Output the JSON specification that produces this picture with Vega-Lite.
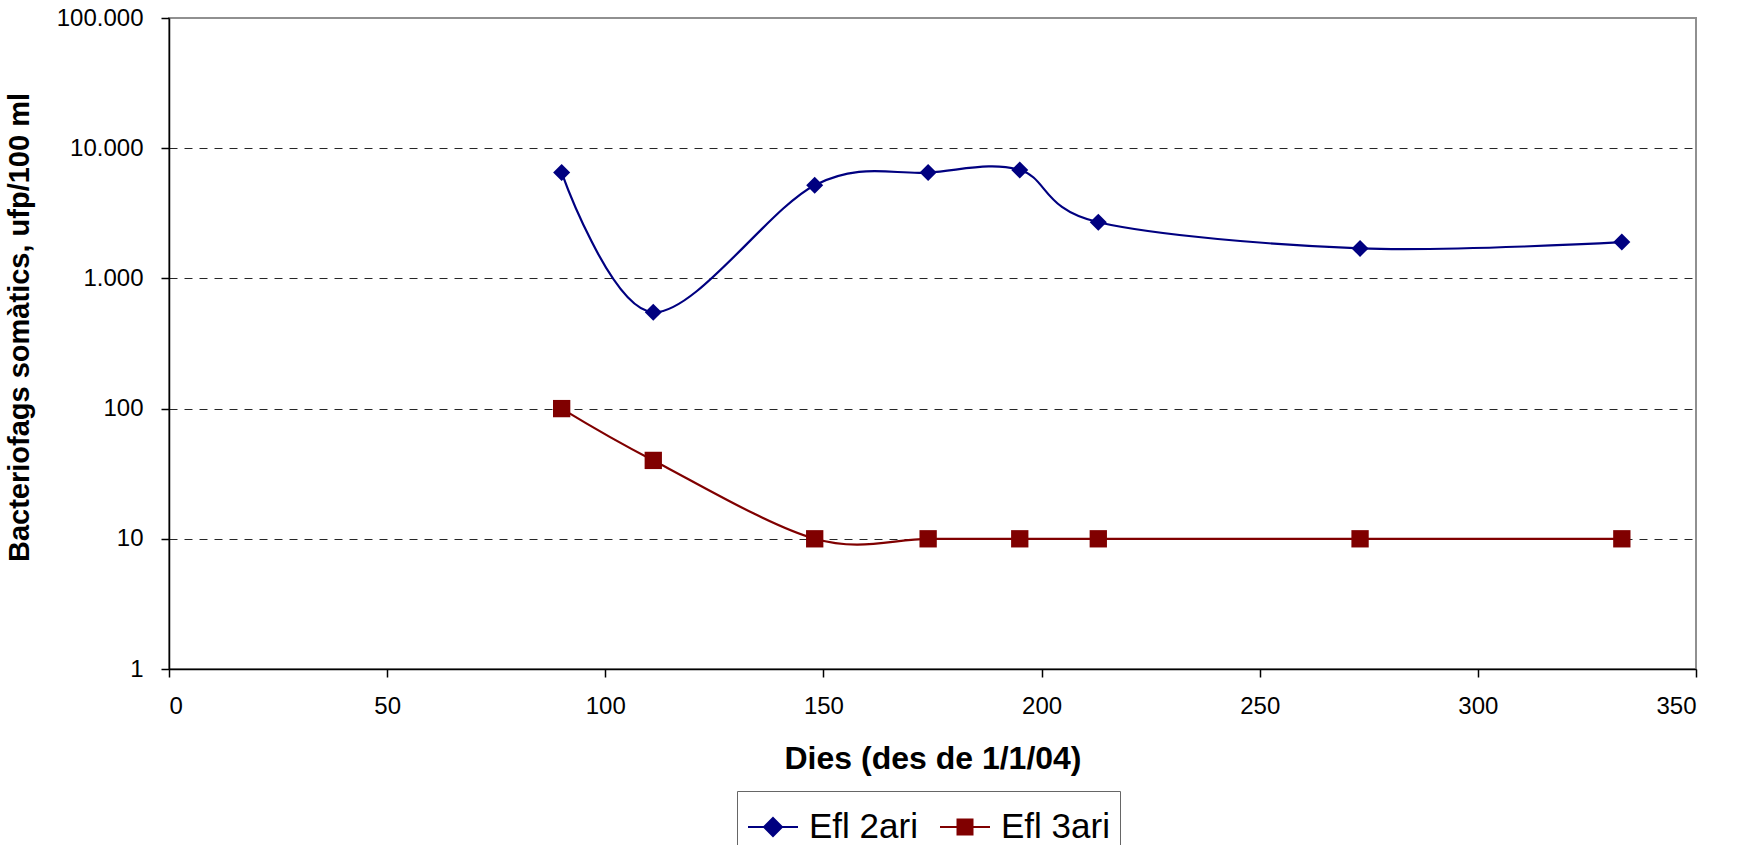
{
  "$schema": "https://vega.github.io/schema/vega-lite/v6.json",
  "width": 1527,
  "height": 651,
  "autosize": {"type": "none"},
  "padding": {"left": 169, "top": 18, "right": 42, "bottom": 176},
  "background": "white",
  "data": {
    "values": [
      {"dies": 90, "serie": "Efl 2ari", "valor": 6500},
      {"dies": 111, "serie": "Efl 2ari", "valor": 550},
      {"dies": 148, "serie": "Efl 2ari", "valor": 5200},
      {"dies": 174, "serie": "Efl 2ari", "valor": 6500},
      {"dies": 195, "serie": "Efl 2ari", "valor": 6800},
      {"dies": 213, "serie": "Efl 2ari", "valor": 2700},
      {"dies": 273, "serie": "Efl 2ari", "valor": 1700},
      {"dies": 333, "serie": "Efl 2ari", "valor": 1900},
      {"dies": 90, "serie": "Efl 3ari", "valor": 100},
      {"dies": 111, "serie": "Efl 3ari", "valor": 40},
      {"dies": 148, "serie": "Efl 3ari", "valor": 10},
      {"dies": 174, "serie": "Efl 3ari", "valor": 10},
      {"dies": 195, "serie": "Efl 3ari", "valor": 10},
      {"dies": 213, "serie": "Efl 3ari", "valor": 10},
      {"dies": 273, "serie": "Efl 3ari", "valor": 10},
      {"dies": 333, "serie": "Efl 3ari", "valor": 10}
    ]
  },
  "encoding": {
    "x": {
      "field": "dies",
      "type": "quantitative",
      "scale": {"domain": [0, 350], "nice": false, "zero": false},
      "axis": {
        "title": "Dies (des de 1/1/04)",
        "values": [0, 50, 100, 150, 200, 250, 300, 350],
        "grid": false,
        "labelFontSize": 24,
        "labelPadding": 17,
        "titlePadding": 25,
        "titleFontSize": 32
      }
    },
    "y": {
      "field": "valor",
      "type": "quantitative",
      "scale": {"type": "log", "domain": [1, 100000], "nice": false},
      "axis": {
        "title": "Bacteriofags somàtics, ufp/100 ml",
        "values": [1, 10, 100, 1000, 10000, 100000],
        "format": ",.0f",
        "grid": true,
        "gridDash": [8, 7],
        "gridColor": "#000000",
        "gridWidth": 1,
        "gridOpacity": {"condition": {"test": "datum.value <= 1 || datum.value >= 100000", "value": 0}, "value": 0.85},
        "labelFontSize": 24,
        "labelPadding": 18,
        "titlePadding": 22,
        "titleFontSize": 29,
        "titleY": 309
      }
    },
    "color": {
      "field": "serie",
      "type": "nominal",
      "scale": {"domain": ["Efl 2ari", "Efl 3ari"], "range": ["#000080", "#800000"]},
      "legend": {
        "orient": "none",
        "legendX": 568,
        "legendY": 773,
        "direction": "horizontal",
        "title": null,
        "symbolSize": 2500,
        "symbolStrokeWidth": 2,
        "symbolOpacity": 1,
        "symbolType": {"expr": "datum.value === 'Efl 2ari' ? 'M-1,0L1,0M0,-0.36L0.36,0L0,0.36L-0.36,0Z' : 'M-1,0L1,0M-0.3,-0.3L0.3,-0.3L0.3,0.3L-0.3,0.3Z'"},
        "symbolFillColor": {"expr": "datum.value === 'Efl 2ari' ? '#000080' : '#800000'"},
        "symbolStrokeColor": {"expr": "datum.value === 'Efl 2ari' ? '#000080' : '#800000'"},
        "labelFontSize": 35,
        "labelOffset": 10,
        "columnPadding": 18,
        "padding": 10,
        "strokeColor": "#666666",
        "labelColor": "#000000"
      }
    }
  },
  "layer": [
    {
      "mark": {"type": "line", "interpolate": "cardinal", "strokeWidth": 2.2}
    },
    {
      "transform": [{"filter": "datum.serie === 'Efl 2ari'"}],
      "mark": {"type": "point", "filled": true, "opacity": 1, "shape": "diamond", "size": 290}
    },
    {
      "transform": [{"filter": "datum.serie === 'Efl 3ari'"}],
      "mark": {"type": "point", "filled": true, "opacity": 1, "shape": "square", "size": 300}
    }
  ],
  "config": {
    "font": "Liberation Sans",
    "locale": {
      "number": {"decimal": ",", "thousands": ".", "grouping": [3], "currency": ["", " €"]}
    },
    "view": {"stroke": "#909090", "strokeWidth": 2},
    "axis": {
      "labelFont": "Liberation Sans",
      "titleFont": "Liberation Sans",
      "labelColor": "#000000",
      "titleColor": "#000000",
      "titleFontWeight": "bold",
      "domainColor": "#000000",
      "domainWidth": 1.5,
      "tickColor": "#000000",
      "tickWidth": 1.5,
      "tickSize": 8
    },
    "legend": {
      "labelFont": "Liberation Sans"
    }
  }
}
